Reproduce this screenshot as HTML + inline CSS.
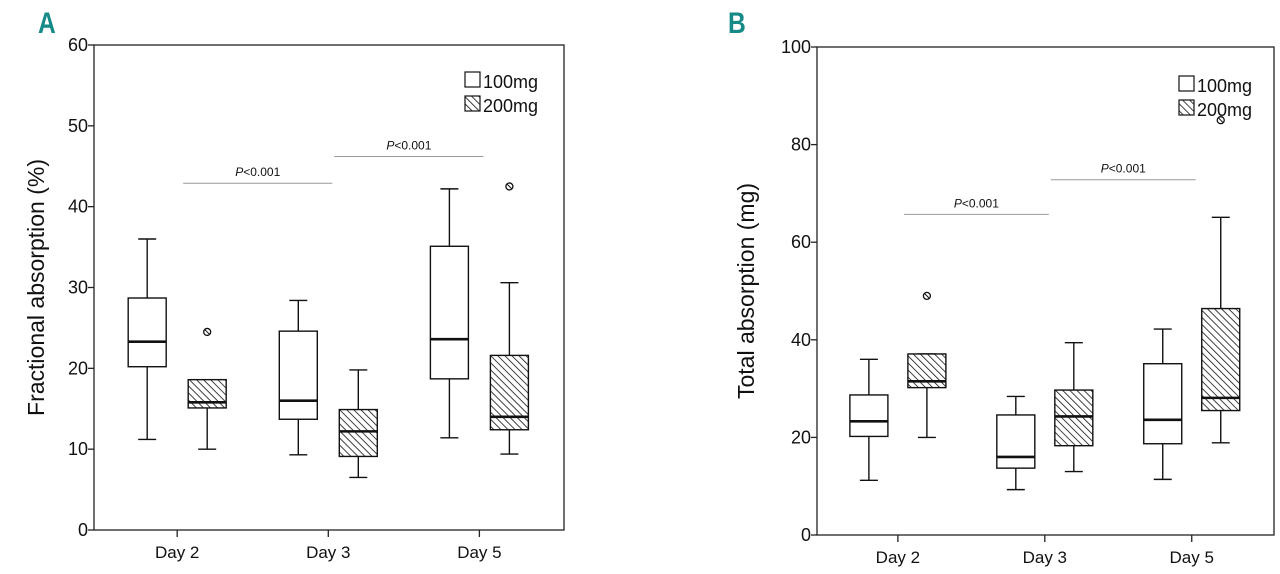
<!DOCTYPE html>
<html><head><meta charset="utf-8"><style>
body{margin:0;background:#fff;}
svg{display:block;font-family:"Liberation Sans",sans-serif;}
</style></head><body>
<svg id="chart" width="1280" height="574" viewBox="0 0 1280 574">
<defs>
<pattern id="hatch" patternUnits="userSpaceOnUse" width="5" height="5" patternTransform="rotate(-45)">
<rect width="5" height="5" fill="#fff"/>
<line x1="0" y1="0" x2="0" y2="5" stroke="#111" stroke-width="1.6"/>
</pattern>
</defs>
</svg>
<script>
const categories = ["Day 2", "Day 3", "Day 5"];
const series = ["100mg", "200mg"];
// [min, q1, median, q3, max]
const fracLow = [[11.2,20.2,23.3,28.7,36],[9.3,13.7,16,24.6,28.4],[11.4,18.7,23.6,35.1,42.2]];
const fracHigh = [[10,15.1,15.8,18.6,18.6],[6.5,9.1,12.2,14.9,19.8],[9.4,12.4,14,21.6,30.6]];
const fracOutliers = [[null,24.5],[null,null],[null,42.5]];
const totLow = [[11.2,20.2,23.3,28.7,36],[9.3,13.7,16,24.6,28.4],[11.4,18.7,23.6,35.1,42.2]];
const totHigh = [[20,30.2,31.5,37.1,37.1],[13,18.3,24.3,29.7,39.4],[18.9,25.5,28.1,46.4,65.1]];
const totOutliers = [[null,49],[null,null],[null,85]];
const fracTicks = [0,10,20,30,40,50,60];
const totTicks = [0,20,40,60,80,100];
const fracPvals = [{from:0,to:1,y:42.9,label:"<0.001"},{from:1,to:2,y:46.2,label:"<0.001"}];
const totPvals = [{from:0,to:1,y:65.7,label:"<0.001"},{from:1,to:2,y:72.8,label:"<0.001"}];

const svg = document.getElementById('chart');
const NS = "http://www.w3.org/2000/svg";
function mk(tag, attrs, parent){
  const e = document.createElementNS(NS, tag);
  for (const k in attrs) e.setAttribute(k, attrs[k]);
  (parent||svg).appendChild(e); return e;
}

function panel(cfg){
  const g = mk('g', {});
  
  
  const y = v => cfg.bottom - (v - cfg.ymin) / (cfg.ymax - cfg.ymin) * (cfg.bottom - cfg.top);
  const cx = i => cfg.left + (cfg.right - cfg.left) * (0.177 + i * 0.3215);
  const L = mk('text', {x:cfg.letterX, y:33, 'font-size':30, 'font-weight':'bold', fill:'#168a86', transform:`translate(${cfg.letterX},0) scale(0.82,1) translate(${-cfg.letterX},0)`}, g);
  L.textContent = cfg.letter;
  
  
  const fr = mk('rect', {x:cfg.left, y:cfg.top, width:cfg.right-cfg.left, height:cfg.bottom-cfg.top, fill:'none', stroke:'#222', 'stroke-width':1.3}, g);
  
  
  cfg.ticks.forEach(t => {
    mk('line', {x1:cfg.left-6, x2:cfg.left, y1:y(t), y2:y(t), stroke:'#222', 'stroke-width':1.3}, g);
    const tx = mk('text', {x:cfg.left-6, y:y(t)+6, 'font-size':18, 'text-anchor':'end', fill:'#111'}, g);
    tx.textContent = t;
    
    
  });
  categories.forEach((c, i) => {
    mk('line', {x1:cx(i), x2:cx(i), y1:cfg.bottom, y2:cfg.bottom+7, stroke:'#222', 'stroke-width':1.3}, g);
    const tx = mk('text', {x:cx(i), y:cfg.bottom+28, 'font-size':17, 'text-anchor':'middle', fill:'#111'}, g);
    tx.textContent = c;
    
    
  });
  const yt = mk('text', {x:0, y:0, 'font-size':23, 'text-anchor':'middle', fill:'#111', transform:`translate(${cfg.titleX},${(cfg.top+cfg.bottom)/2}) rotate(-90)`}, g);
  yt.textContent = cfg.title;
  
  
  const hw = 19, off = cfg.off;
  [cfg.low, cfg.high].forEach((arr, s) => {
    arr.forEach((b, i) => {
      const x = cx(i) + (s === 0 ? -off : off);
      const bg = mk('g', {}, g);
      
      
      mk('line', {x1:x, x2:x, y1:y(b[0]), y2:y(b[1]), stroke:'#111', 'stroke-width':1.4}, bg);
      mk('line', {x1:x, x2:x, y1:y(b[3]), y2:y(b[4]), stroke:'#111', 'stroke-width':1.4}, bg);
      mk('line', {x1:x-9, x2:x+9, y1:y(b[0]), y2:y(b[0]), stroke:'#111', 'stroke-width':1.4}, bg);
      mk('line', {x1:x-9, x2:x+9, y1:y(b[4]), y2:y(b[4]), stroke:'#111', 'stroke-width':1.4}, bg);
      mk('rect', {x:x-hw, y:y(b[3]), width:2*hw, height:y(b[1])-y(b[3]), fill:s?'url(#hatch)':'#fff', stroke:'#111', 'stroke-width':1.4}, bg);
      mk('line', {x1:x-hw, x2:x+hw, y1:y(b[2]), y2:y(b[2]), stroke:'#111', 'stroke-width':2.6}, bg);
      const o = cfg.out[i][s];
      if (o !== null) {
        const c = mk('circle', {cx:x, cy:y(o), r:3.5, fill:'#fff', stroke:'#111', 'stroke-width':1.3}, bg);
        
        
        mk('line', {x1:x-2.4, y1:y(o)-2.4, x2:x+2.4, y2:y(o)+2.4, stroke:'#111', 'stroke-width':1}, bg);
      }
    });
  });
  cfg.pv.forEach(p => {
    const pg = mk('g', {}, g);
    
    
    const x1 = cx(p.from) + 6, x2 = cx(p.to) + 4;
    mk('line', {x1:x1, x2:x2, y1:y(p.y), y2:y(p.y), stroke:'#999', 'stroke-width':1}, pg);
    const t = mk('text', {x:(x1+x2)/2, y:y(p.y)-7, 'font-size':12, 'text-anchor':'middle', fill:'#111'}, pg);
    t.innerHTML = '<tspan font-style="italic">P</tspan>' + p.label;
  });
  const lg = mk('g', {}, g);
  
  
  series.forEach((s, k) => {
    const ly = cfg.legY + k * 24;
    const e = mk('g', {}, lg);
    
    
    mk('rect', {x:cfg.legX, y:ly, width:15, height:15, fill:k?'url(#hatch)':'#fff', stroke:'#111', 'stroke-width':1.2}, e);
    const t = mk('text', {x:cfg.legX+18, y:ly+16, 'font-size':18, fill:'#111'}, e);
    t.textContent = s;
  });
}

panel({name:'panel-a-fractional', letter:'A', letterX:38, left:94, right:564, top:45, bottom:530, ymin:0, ymax:60,
  ticks:fracTicks, title:'Fractional absorption (%)', titleX:44, off:30, low:fracLow, high:fracHigh, out:fracOutliers,
  pv:fracPvals, legX:465, legY:72});
panel({name:'panel-b-total', letter:'B', letterX:728, left:817, right:1274, top:47, bottom:535, ymin:0, ymax:100,
  ticks:totTicks, title:'Total absorption (mg)', titleX:754, off:29, low:totLow, high:totHigh, out:totOutliers,
  pv:totPvals, legX:1179, legY:76});
</script>
</body></html>
